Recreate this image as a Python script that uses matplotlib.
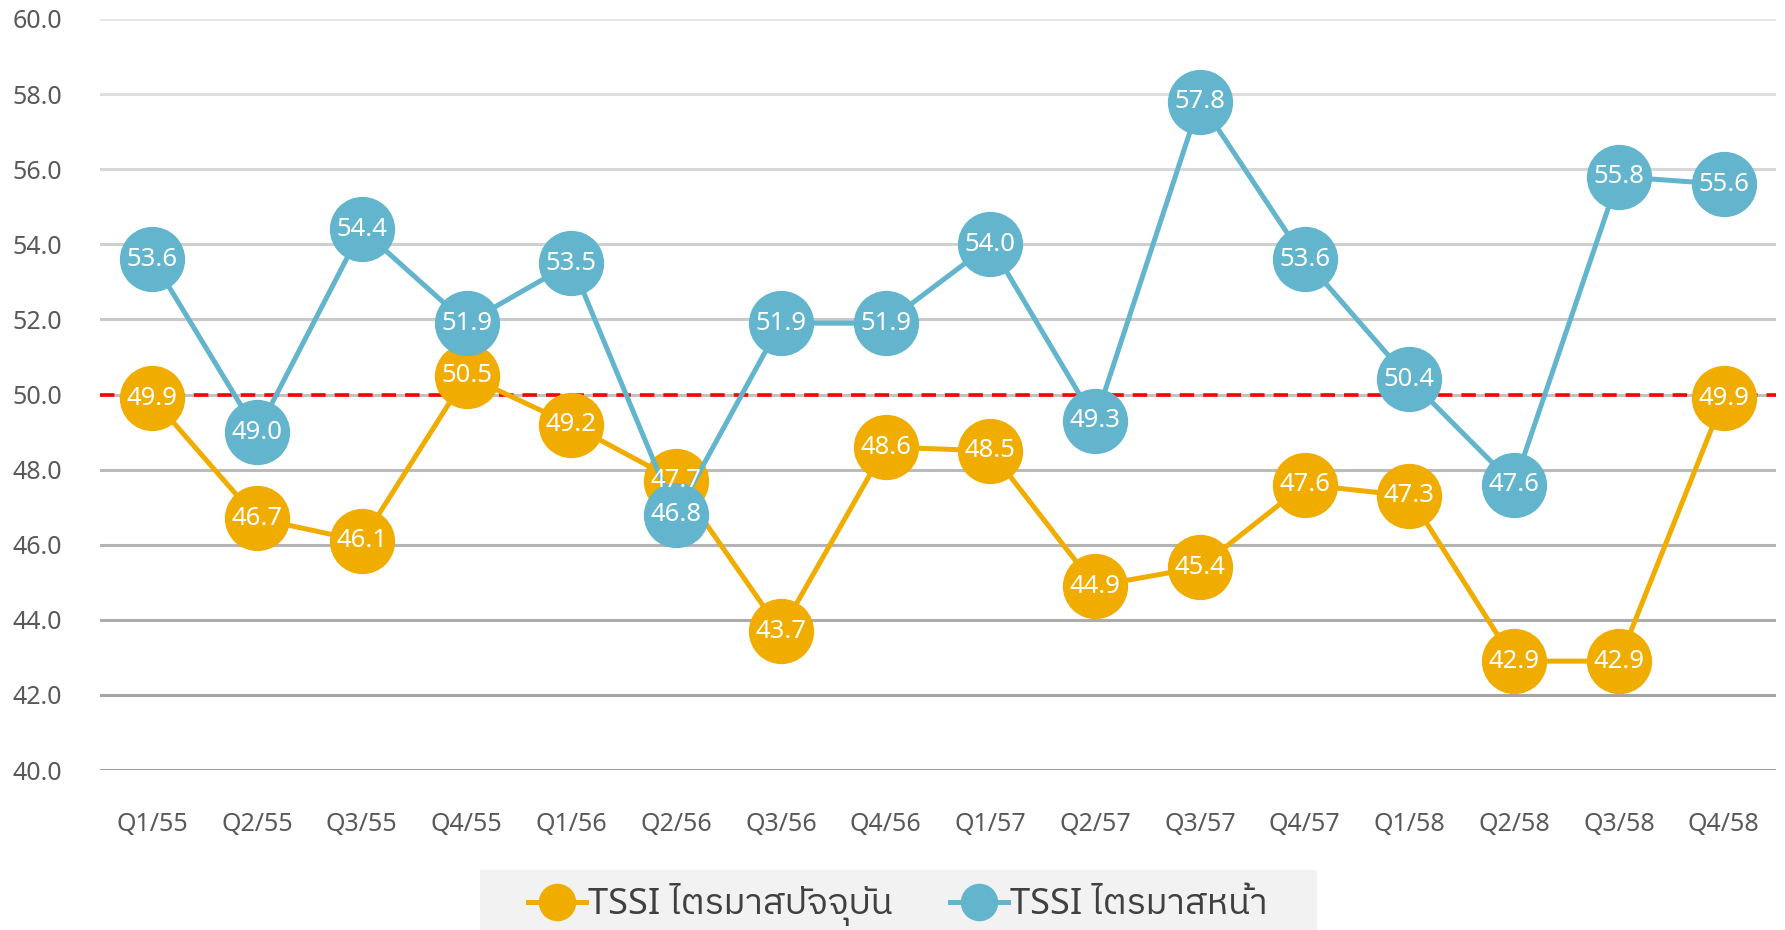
import matplotlib
matplotlib.use("Agg")
import matplotlib.pyplot as plt
from matplotlib import font_manager
from matplotlib.ft2font import FT2Font
from matplotlib.lines import Line2D
from matplotlib.patches import Rectangle
import numpy as np

quarters = ["Q1/55", "Q2/55", "Q3/55", "Q4/55", "Q1/56", "Q2/56", "Q3/56", "Q4/56",
            "Q1/57", "Q2/57", "Q3/57", "Q4/57", "Q1/58", "Q2/58", "Q3/58", "Q4/58"]
tssi_current = [49.9, 46.7, 46.1, 50.5, 49.2, 47.7, 43.7, 48.6,
                48.5, 44.9, 45.4, 47.6, 47.3, 42.9, 42.9, 49.9]
tssi_next = [53.6, 49.0, 54.4, 51.9, 53.5, 46.8, 51.9, 51.9,
             54.0, 49.3, 57.8, 53.6, 50.4, 47.6, 55.8, 55.6]
series_names = ["TSSI ไตรมาสปัจจุบัน", "TSSI ไตรมาสหน้า"]
threshold = 50.0

ORANGE = "#F0AD00"
BLUE = "#62B5CC"


def find_thai_font():
    # look for any installed font that carries Thai glyphs
    fonts = sorted(font_manager.fontManager.ttflist,
                   key=lambda f: 0 if "thai" in f.name.lower() else 1)
    for f in fonts:
        try:
            if 0x0E44 in FT2Font(f.fname).get_charmap():
                return f.name
        except Exception:
            continue
    return None


thai = find_thai_font()
families = ["Noto Sans"] + ([thai] if thai else []) + ["DejaVu Sans"]
plt.rcParams["font.family"] = families

fig = plt.figure(figsize=(17.85, 9.30), dpi=100)
ax = fig.add_axes([0.056, 0.172, 0.939, 0.8076])

x = np.arange(len(quarters))

# grid lines get darker towards the bottom
yticks = np.arange(40, 61, 2)
greys = np.linspace(0.62, 0.90, len(yticks))
for yv, g in zip(yticks, greys):
    ax.axhline(yv, color=(g, g, g), lw=2.2, zorder=0)

ax.axhline(threshold, color="#FF0000", lw=2.6, ls=(0, (4, 2.5)), zorder=1)

ax.plot(x, tssi_current, color=ORANGE, lw=3.6, marker="o", markersize=47,
        markeredgewidth=0, zorder=3)
ax.plot(x, tssi_next, color=BLUE, lw=3.6, marker="o", markersize=47,
        markeredgewidth=0, zorder=4)

for xi, v in zip(x, tssi_current):
    ax.text(xi, v, f"{v:.1f}", color="white", fontsize=18.5, ha="center",
            va="center", zorder=6)
for xi, v in zip(x, tssi_next):
    ax.text(xi, v, f"{v:.1f}", color="white", fontsize=18.5, ha="center",
            va="center", zorder=6)

ax.set_xlim(-0.5, len(quarters) - 0.5)
ax.set_ylim(40, 60)
ax.set_yticks(yticks)
ax.set_yticklabels([f"{v:.1f}" for v in yticks])
ax.set_xticks(x)
ax.set_xticklabels(quarters)
ax.tick_params(axis="y", length=0, pad=27, labelsize=18, labelcolor="#595959")
ax.tick_params(axis="x", length=0, pad=30, labelsize=18, labelcolor="#595959")
for s in ax.spines.values():
    s.set_visible(False)

# grey legend panel at the bottom
fig.patches.append(Rectangle((0.269, 0.0), 0.469, 0.064, transform=fig.transFigure,
                             facecolor="#F2F2F2", edgecolor="none", zorder=0))

handles = [
    Line2D([], [], color=ORANGE, lw=3.6, marker="o", markersize=27, markeredgewidth=0),
    Line2D([], [], color=BLUE, lw=3.6, marker="o", markersize=27, markeredgewidth=0),
]
leg = fig.legend(handles, series_names, loc="center",
                 bbox_to_anchor=(0.503, 0.027), ncol=2, fontsize=26,
                 frameon=False, handlelength=1.6,
                 handletextpad=0.05, columnspacing=1.6, borderpad=0.0,
                 labelcolor="#404040")

fig.savefig("out.png", dpi=100)
